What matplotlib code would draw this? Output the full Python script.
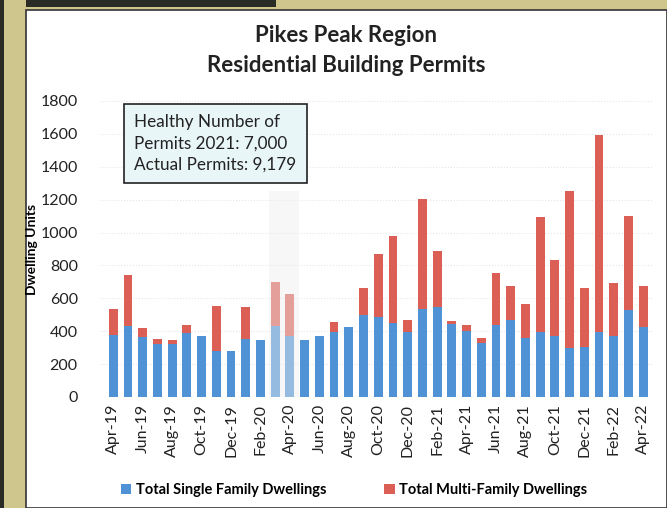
import numpy as np
import matplotlib
matplotlib.use("Agg")
import matplotlib.pyplot as plt
from matplotlib.patches import Rectangle

plt.rcParams['font.family'] = ['Lato', 'DejaVu Sans']

# meses de Apr-19 ate Apr-22
months = ['Apr-19', 'May-19', 'Jun-19', 'Jul-19', 'Aug-19', 'Sep-19', 'Oct-19', 'Nov-19',
          'Dec-19', 'Jan-20', 'Feb-20', 'Mar-20', 'Apr-20', 'May-20', 'Jun-20', 'Jul-20',
          'Aug-20', 'Sep-20', 'Oct-20', 'Nov-20', 'Dec-20', 'Jan-21', 'Feb-21', 'Mar-21',
          'Apr-21', 'May-21', 'Jun-21', 'Jul-21', 'Aug-21', 'Sep-21', 'Oct-21', 'Nov-21',
          'Dec-21', 'Jan-22', 'Feb-22', 'Mar-22', 'Apr-22']

single = [375, 430, 365, 320, 322, 390, 372, 282, 282, 355, 348, 432, 372, 348, 372, 395,
          428, 500, 488, 452, 395, 535, 548, 445, 400, 330, 440, 470, 360, 395, 372, 300,
          305, 395, 372, 530, 428]
total = [538, 742, 420, 355, 348, 440, 372, 555, 282, 548, 348, 700, 628, 348, 372, 458,
         428, 665, 870, 980, 470, 1205, 890, 460, 440, 360, 755, 678, 568, 1095, 835, 1252,
         665, 1592, 695, 1102, 672]
multi = [t - s for t, s in zip(total, single)]

blue = '#4f93d6'
red = '#dc5f56'

fig = plt.figure(figsize=(6.67, 5.08), dpi=100)
fig.patch.set_facecolor('#cfc68e')

# painel branco e bordas (scan)
fig.patches.append(Rectangle((26/667, 0), 641/667, 1 - 10/508, transform=fig.transFigure,
                             facecolor='white', edgecolor='#333333', lw=1.2, zorder=-5))
fig.patches.append(Rectangle((26/667, 1 - 7/508), 250/667, 7/508, transform=fig.transFigure,
                             facecolor='#2b2b25', edgecolor='none', zorder=-5))
fig.patches.append(Rectangle((0, 0), 4/667, 1, transform=fig.transFigure,
                             facecolor='#2b2b25', edgecolor='none', zorder=-5))

ax = fig.add_axes([100/667, 1 - 397/508, 552/667, 296/508])
ax.set_facecolor('none')
x = np.arange(len(months))
ax.bar(x, single, width=0.6, color=blue, label='Total Single Family Dwellings', zorder=2)
ax.bar(x, multi, width=0.6, bottom=single, color=red, label='Total Multi-Family Dwellings', zorder=2)

# faixa esmaecida em Mar-20 / Apr-20
ax.axvspan(10.55, 12.6, ymin=0, ymax=1250/1800, color='#eeeeee', alpha=0.45, lw=0, zorder=3)

ax.set_ylim(0, 1800)
ax.set_xlim(-0.9, 36.6)
ax.set_yticks(range(0, 1801, 200))
ax.set_xticks(x[::2])
ax.set_xticklabels(months[::2], rotation=90, fontsize=11.5, color='#222222')
ax.tick_params(axis='y', labelsize=11.5, colors='#222222', length=0, pad=16)
ax.tick_params(axis='x', length=0, pad=5)
ax.grid(axis='y', color='#e6e6e6', lw=0.8, ls=':', zorder=0)
for s in ax.spines.values():
    s.set_visible(False)

ax.set_ylabel('Dwelling Units', fontsize=10, fontweight='bold')
ax.yaxis.set_label_coords(-0.112, 0.5)

fig.text(346/667, 1 - 36/508, 'Pikes Peak Region', ha='center', va='center',
         fontsize=16, fontweight='bold', color='#222222')
fig.text(346/667, 1 - 66/508, 'Residential Building Permits', ha='center', va='center',
         fontsize=16, fontweight='bold', color='#222222')

ax.text(0.062, 0.955, 'Healthy Number of\nPermits 2021: 7,000\nActual Permits: 9,179',
        transform=ax.transAxes, ha='left', va='top', fontsize=12.3, linespacing=1.4,
        color='#222222', zorder=5,
        bbox=dict(boxstyle='square,pad=0.6', facecolor='#e9f6f8', edgecolor='#222222', lw=1.2))

fig.legend(loc='center', bbox_to_anchor=(354/667, 1 - 490/508), ncol=2, frameon=False,
           handlelength=0.7, handleheight=0.7, columnspacing=4.0,
           handletextpad=0.3, prop={'weight': 'bold', 'size': 10.5})

fig.savefig('out.png', dpi=100, facecolor=fig.get_facecolor())
